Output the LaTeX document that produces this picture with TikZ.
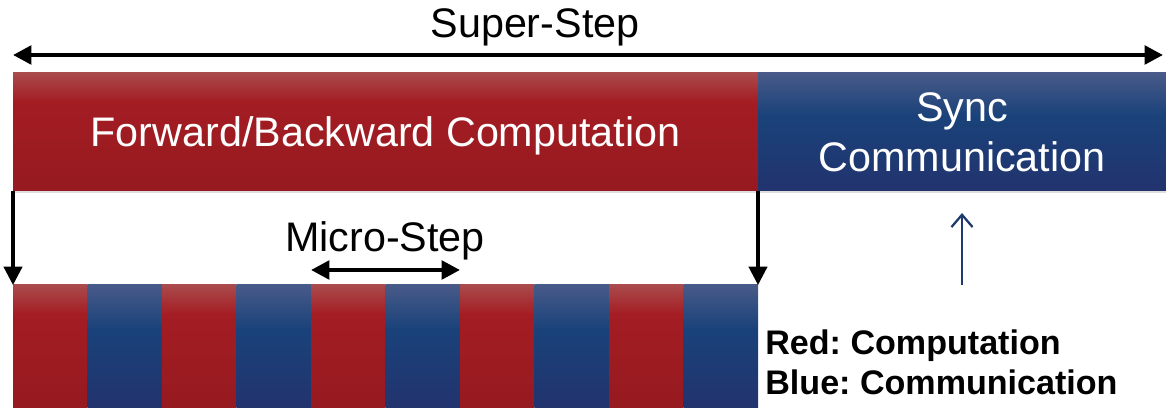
\documentclass[tikz,border=0pt]{standalone}
\usepackage{fontspec}
\setmainfont{Liberation Sans}
\usetikzlibrary{arrows.meta, shadows}
\frenchspacing

\definecolor{redtop}{RGB}{170,74,76}
\definecolor{redmid}{RGB}{163,29,35}
\definecolor{redbot}{RGB}{150,26,32}
\definecolor{bluetop}{RGB}{72,90,136}
\definecolor{bluemid}{RGB}{26,66,122}
\definecolor{bluebot}{RGB}{34,51,110}
\definecolor{arrowblue}{RGB}{31,58,110}

\pgfdeclareverticalshading{redbar}{100bp}{color(0bp)=(redbot); color(25bp)=(redbot); color(63bp)=(redmid); color(75bp)=(redtop); color(100bp)=(redtop)}
\pgfdeclareverticalshading{bluebar}{100bp}{color(0bp)=(bluebot); color(25bp)=(bluebot); color(57bp)=(bluemid); color(75bp)=(bluetop); color(100bp)=(bluetop)}

\tikzset{
	bar/.style = {inner sep = 0, outer sep = 0, anchor = north west, shade},
	redbar/.style = {bar, shading = redbar},
	bluebar/.style = {bar, shading = bluebar},
	bigfont/.style = {font = \fontsize{23.5}{28.2}\selectfont},
	boxtext/.style = {bigfont, text = white, align = center, text depth = 0pt},
	legend/.style = {font = \fontsize{19.4}{23}\selectfont\bfseries, anchor = base west, inner sep = 0},
	thick arrow/.style = {line width = 2.4pt},
	drop arrow/.style = {line width = 1.8pt},
}

\begin{document}
\begin{tikzpicture}[x = 0.02cm, y = -0.02cm, > = {Triangle[length = 10.5pt, width = 10.5pt]}]

	% Definition

	\def\W{0.02};

	\useasboundingbox (0, 0) rectangle (1166, 408);

	% Super-step boxes

	\node [redbar, drop shadow = {opacity = 0.25, shadow xshift = 0.5pt, shadow yshift = -1.2pt},
		minimum width = 745 * \W cm, minimum height = 118 * \W cm, boxtext] (fwd) at (13, 73) {Forward/Backward Computation};
	\node [bluebar, drop shadow = {opacity = 0.25, shadow xshift = 0.5pt, shadow yshift = -1.2pt},
		minimum width = 408 * \W cm, minimum height = 118 * \W cm, boxtext] (sync) at (758, 73) {Sync\\Communication};

	% Micro-steps

	\foreach \i in {1, ..., 10}
	{
		\pgfmathsetmacro{\xs}{13 + (\i - 1) * 74.5}
		\ifodd\i
			\node [redbar, minimum width = 74.5 * \W cm, minimum height = 122 * \W cm] (m\i) at (\xs, 285) {};
		\else
			\node [bluebar, minimum width = 74.5 * \W cm, minimum height = 122 * \W cm] (m\i) at (\xs, 285) {};
		\fi
	}

	% Super-step arrow

	\coordinate (ssl) at (13, 55);
	\coordinate (ssr) at (1163, 55);
	\draw [thick arrow, <->] (ssl) -- (ssr);
	\node [bigfont, anchor = base, inner sep = 0] (sstext) at (535, 38) {Super-Step};

	% Expansion arrows

	\draw [drop arrow, ->] (fwd.south west) -- (m1.north west);
	\draw [drop arrow, ->] (fwd.south east) -- (m10.north east);

	% Micro-step arrow

	\draw [thick arrow, <->] ([yshift = 0.3cm] m5.north west) -- ([yshift = 0.3cm] m6.north east);
	\node [bigfont, anchor = base, inner sep = 0] (mstext) at (385, 252) {Micro-Step};

	% Sync arrow

	\coordinate (synctail) at (962, 285);
	\draw [arrowblue, line width = 1.3pt, -{Straight Barb[length = 7pt, width = 12pt]}] (synctail) -- ([yshift = -0.44cm] sync.south);

	% Legend

	\node [legend] (legred) at (765, 355) {Red: Computation};
	\node [legend] (legblue) at (765, 395) {Blue: Communication};

\end{tikzpicture}
\end{document}
